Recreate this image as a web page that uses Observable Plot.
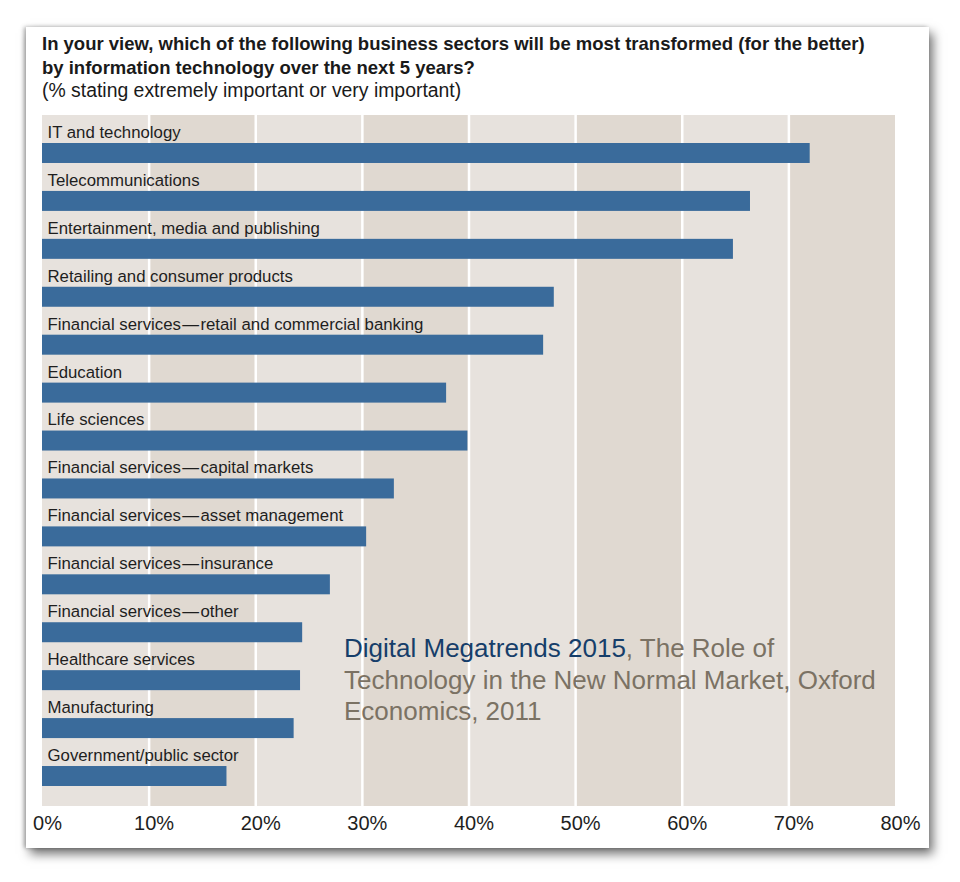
<!DOCTYPE html>
<html>
<head>
<meta charset="utf-8">
<script src="https://cdn.jsdelivr.net/npm/d3@7"></script>
<script src="https://cdn.jsdelivr.net/npm/@observablehq/plot@0.6"></script>
<style>
  html, body { margin: 0; padding: 0; background: #ffffff; }
  body { width: 960px; height: 882px; position: relative; overflow: hidden; font-family: "Liberation Sans", Arial, sans-serif; }
  #card { position: absolute; left: 26px; top: 27px; width: 903px; height: 821px; background: #fff;
          box-shadow: 4px 6px 10px rgba(0,0,0,0.55), -2px 0px 4px rgba(0,0,0,0.3); }
  #title { position: absolute; left: 42px; top: 32px; font-size: 18.5px; line-height: 23.5px; color: #1a1a1a; }
  #title b { font-weight: bold; }
  #title .sub { font-size: 19.4px; }
  #chart { position: absolute; left: 0; top: 105px; }
  #note { position: absolute; left: 344px; top: 633px; font-size: 26px; line-height: 31.5px; color: #7b7264; }
  #note .blue { color: #163e6a; }
</style>
</head>
<body>
<div id="card"></div>
<div id="title"><b>In your view, which of the following business sectors will be most transformed (for the better)<br>by information technology over the next 5 years?</b><br><span class="sub">(% stating extremely important or very important)</span></div>
<div id="chart"></div>
<div id="note"><span class="blue">Digital Megatrends 2015</span>, The Role of<br>Technology in the New Normal Market, Oxford<br>Economics, 2011</div>
<script>
const categories = [
  "IT and technology",
  "Telecommunications",
  "Entertainment, media and publishing",
  "Retailing and consumer products",
  "Financial services\u200a\u2014\u200aretail and commercial banking",
  "Education",
  "Life sciences",
  "Financial services\u200a\u2014\u200acapital markets",
  "Financial services\u200a\u2014\u200aasset management",
  "Financial services\u200a\u2014\u200ainsurance",
  "Financial services\u200a\u2014\u200aother",
  "Healthcare services",
  "Manufacturing",
  "Government/public sector"
];
const values = [72, 66.4, 64.8, 48, 47, 37.9, 39.9, 33, 30.4, 27, 24.4, 24.2, 23.6, 17.3];
const tickValues = [0, 10, 20, 30, 40, 50, 60, 70, 80];

const data = categories.map((c, i) => ({category: c, value: values[i]}));
const stripes = tickValues.slice(0, -1).map((t, i) => ({x1: t, x2: tickValues[i + 1], i}));
const gridLines = tickValues.slice(1, -1);

const chart = Plot.plot({
  width: 960,
  height: 745,
  marginLeft: 42,
  marginRight: 65,
  marginTop: 10,
  marginBottom: 44,
  style: {fontFamily: "'Liberation Sans', Arial, sans-serif", background: "transparent", overflow: "visible"},
  x: {domain: [0, 80], axis: null},
  y: {domain: categories, range: [38, 681], paddingInner: 0.583, paddingOuter: 0, round: false, axis: null},
  marks: [
    Plot.rect(stripes, {x1: "x1", x2: "x2", fill: d => d.i % 2 === 0 ? "#e7e2dd" : "#e0d9d1"}),
    Plot.ruleX(gridLines, {stroke: "#ffffff", strokeWidth: 2.5}),
    Plot.barX(data, {y: "category", x: "value", fill: "#3a6b9b"}),
    Plot.text(data, {y: "category", x: 0, text: "category", textAnchor: "start", dx: 5, dy: -21,
      fontSize: 16.8, fill: "#1e1e1e"}),
    Plot.axisX({ticks: tickValues, tickSize: 0, tickPadding: 9, tickFormat: d => d + "%",
      fontSize: 20, fill: "#1e1e1e", dx: 5, label: null})
  ]
});
document.getElementById("chart").appendChild(chart);
</script>
</body>
</html>
